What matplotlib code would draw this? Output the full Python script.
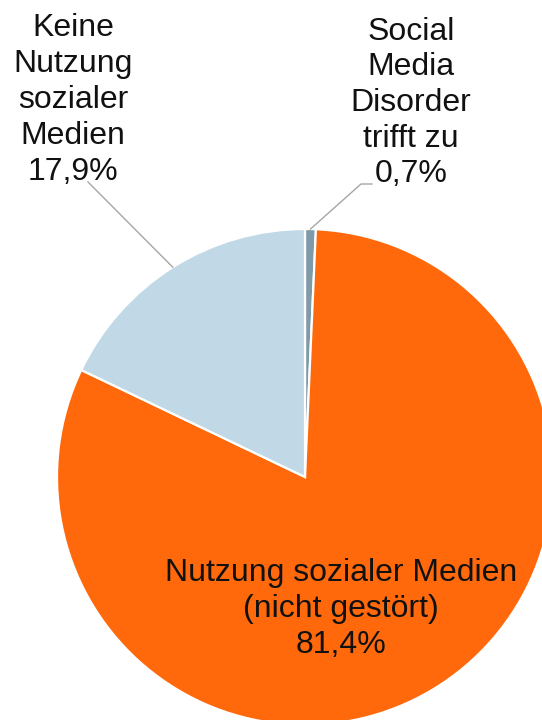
import numpy as np
import matplotlib
matplotlib.use("Agg")
import matplotlib.pyplot as plt

plt.rcParams['font.family'] = ['Liberation Sans', 'DejaVu Sans']

# Daten (Anteile in %)
kategorien = ["Social\nMedia\nDisorder\ntrifft zu",
              "Nutzung sozialer Medien\n(nicht gestört)",
              "Keine\nNutzung\nsozialer\nMedien"]
anteile = [0.7, 81.4, 17.9]
anteil_text = ["0,7%", "81,4%", "17,9%"]
farben = ["#7F9BA9", "#FF690B", "#C1D9E6"]

# Figur in Pixel-Koordinaten (542 x 720)
W, H = 542, 720
fig = plt.figure(figsize=(W / 100, H / 100), dpi=100)
ax = fig.add_axes([0, 0, 1, 1])

mitte = (305, H - 477)
radius = 248

wedges, _ = ax.pie(anteile, colors=farben, startangle=90, counterclock=False,
                   center=mitte, radius=radius, frame=True,
                   wedgeprops=dict(edgecolor="white", linewidth=1.6))
ax.set_xlim(0, W)
ax.set_ylim(0, H)
ax.set_aspect("equal")
ax.axis("off")

fs = 23
# Beschriftungen
label_pos = [(411, H - 103), (341, H - 609), (73, H - 100)]
for i, (x, y) in enumerate(label_pos):
    ax.text(x, y, kategorien[i] + "\n" + anteil_text[i], ha="center", va="center",
            fontsize=fs, linespacing=1.25, color="#111111")

# Führungslinien zu den kleinen Segmenten
def kante(w):
    t = np.deg2rad((w.theta1 + w.theta2) / 2)
    return mitte[0] + radius * np.cos(t), mitte[1] + radius * np.sin(t)

x0, y0 = kante(wedges[0])
ax.plot([x0, 361, 372], [y0, H - 184, H - 184], color="#A6A6A6", lw=1.0)
x2, y2 = kante(wedges[2])
ax.plot([x2, 88], [y2, H - 182], color="#A6A6A6", lw=1.0)

fig.savefig("out.png", dpi=100)
